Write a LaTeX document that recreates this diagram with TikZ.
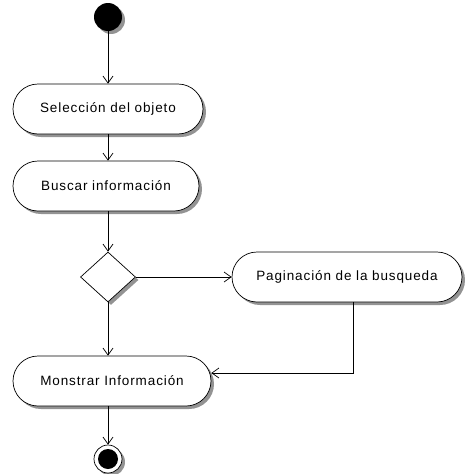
\documentclass[tikz,border=0pt]{standalone}
\usepackage{fontspec}
\setmainfont{Liberation Sans}[LetterSpace=6.5]
\usetikzlibrary{arrows.meta, shapes.misc, shapes.geometric, shadows}

\begin{document}
\begin{tikzpicture}[x=1pt, y=-1pt,
    line width=0.7pt,
    shade/.style={drop shadow={shadow xshift=3pt, shadow yshift=-3pt, fill=shadowColour, opacity=0.85}},
    activity/.style={rounded rectangle, draw=borderColour, fill=white, shade,
        minimum height=50pt, inner sep=0pt, font=\fontsize{13.5}{15}\selectfont},
    flow/.style={-{Straight Barb[length=7pt, width=10pt]}}]
    % Define colours
    \definecolor{borderColour}{HTML}{000000}
    \definecolor{shadowColour}{HTML}{808080}

    % Fix the page size
    \useasboundingbox (0,0) rectangle (465,474);

    % Start and end states
    \node[circle, fill=borderColour, minimum size=28pt, inner sep=0pt, shade] (start) at (108,17) {};
    \node[circle, draw=borderColour, fill=white, minimum size=28pt, inner sep=0pt, shade,
        path picture={\fill[borderColour] (path picture bounding box.center) circle (10pt);}] (stop) at (108,459) {};

    % Activities
    \node[activity, minimum width=190pt] (select) at (108,109) {Selección del objeto};
    \node[activity, minimum width=186pt] (search) at (106,186) {Buscar información};
    \node[activity, minimum width=230pt] (paging) at (347,277) {Paginación de la busqueda};
    \node[activity, minimum width=198pt] (show) at (112,381) {Monstrar Información};

    % Decision
    \node[diamond, draw=borderColour, fill=white, shade, minimum width=55pt, minimum height=50pt, inner sep=0pt] (choice) at (108,277) {};

    % Draw the flows
    \draw[flow] (start) -- (select);
    \draw[flow] (select.south -| start) -- (search.north -| start);
    \draw[flow] (search.south -| start) -- (choice);
    \draw[flow] (choice) -- (paging);
    \draw[flow] (choice) -- (choice |- show.north);
    \draw[flow] ([xshift=6pt]paging.south) |- ([yshift=8pt]show.east);
    \draw[flow] (show.south -| stop) -- (stop);

\end{tikzpicture}
\end{document}
